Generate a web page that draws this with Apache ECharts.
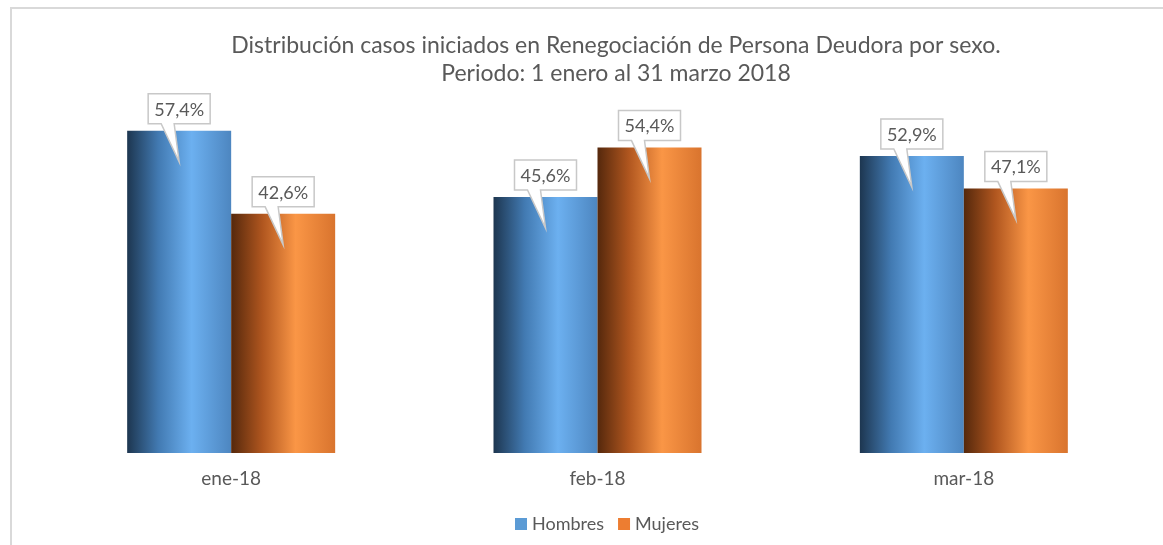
<!DOCTYPE html>
<html>
<head>
<meta charset="utf-8">
<script src="https://cdn.jsdelivr.net/npm/echarts@6/dist/echarts.min.js"></script>
<style>
  html, body { margin: 0; padding: 0; background: #fff; }
  #chart { width: 1163px; height: 545px; }
</style>
</head>
<body>
<div id="chart"></div>
<script>
// datos
const categories = ['ene-18', 'feb-18', 'mar-18'];
const hombres = [57.4, 45.6, 52.9];
const mujeres = [42.6, 54.4, 47.1];
const seriesNames = ['Hombres', 'Mujeres'];

const BAR_W = 104;
const FONT = 'Lato, "Open Sans", sans-serif';
const TXT = '#595959';

const chart = echarts.init(document.getElementById('chart'));

function grad(dark, mid, light, edge) {
    return new echarts.graphic.LinearGradient(0, 0, 1, 0, [
        { offset: 0, color: dark },
        { offset: 0.3, color: mid },
        { offset: 0.62, color: light },
        { offset: 1, color: edge }
    ]);
}

// datos para los globos de etiqueta: [categoria, valor, serie]
const calloutData = [];
categories.forEach((c, i) => {
    calloutData.push([i, hombres[i], 0]);
    calloutData.push([i, mujeres[i], 1]);
});

function renderCallout(params, api) {
    const p = api.coord([api.value(0), api.value(1)]);
    const s = api.value(2);
    const cx = p[0] + (s === 0 ? -BAR_W / 2 : BAR_W / 2);
    const top = p[1];
    const x0 = cx - 31, x1 = cx + 31;
    const y0 = top - 37, y1 = top - 7;
    const pts = [
        [x0, y0], [x1, y0], [x1, y1], [cx - 5, y1],
        [cx, top + 31], [cx - 18, y1], [x0, y1]
    ];
    return {
        type: 'group',
        children: [
            {
                type: 'polygon',
                shape: { points: pts },
                style: { fill: '#fff', stroke: '#c8c8c8', lineWidth: 1.5 }
            },
            {
                type: 'text',
                style: {
                    text: api.value(1).toFixed(1).replace('.', ',') + '%',
                    x: cx, y: (y0 + y1) / 2 + 1,
                    align: 'center', verticalAlign: 'middle',
                    fill: TXT, font: '18px ' + FONT
                }
            }
        ]
    };
}

const option = {
    backgroundColor: '#fff',
    animation: false,
    title: {
        text: 'Distribución casos iniciados en Renegociación de Persona Deudora por sexo.\nPeriodo: 1 enero al 31 marzo 2018',
        left: 611,
        top: 27,
        textAlign: 'center',
        textStyle: {
            color: TXT,
            fontFamily: FONT,
            fontSize: 23,
            fontWeight: 'normal',
            lineHeight: 28
        }
    },
    graphic: [{
        type: 'rect',
        shape: { x: 11, y: 8, width: 1200, height: 600 },
        style: { fill: 'none', stroke: '#d9d9d9', lineWidth: 2 },
        silent: true
    }],
    legend: {
        data: [
            { name: seriesNames[0], itemStyle: { color: '#5b9bd5' } },
            { name: seriesNames[1], itemStyle: { color: '#ed7d31' } }
        ],
        bottom: 7,
        left: 510,
        itemWidth: 12,
        itemHeight: 12,
        itemGap: 14,
        icon: 'rect',
        textStyle: { color: TXT, fontFamily: FONT, fontSize: 18 }
    },
    grid: {
        left: 48,
        right: 16,
        top: 60,
        bottom: 92
    },
    xAxis: {
        type: 'category',
        data: categories,
        axisLine: { show: false },
        axisTick: { show: false },
        axisLabel: { color: TXT, fontFamily: FONT, fontSize: 19, margin: 16 }
    },
    yAxis: {
        type: 'value',
        min: 0,
        max: 70,
        interval: 10,
        show: false,
        splitLine: { show: false }
    },
    series: [
        {
            name: 'Hombres',
            type: 'bar',
            data: hombres,
            barWidth: BAR_W,
            barGap: '0%',
            itemStyle: {
                color: grad('#1d3650', '#427ab2', '#6cb0f0', '#4d86c0')
            }
        },
        {
            name: 'Mujeres',
            type: 'bar',
            data: mujeres,
            barWidth: BAR_W,
            barGap: '0%',
            itemStyle: {
                color: grad('#55280c', '#b0561f', '#fa9646', '#d9742e')
            }
        },
        {
            type: 'custom',
            renderItem: renderCallout,
            data: calloutData,
            clip: false,
            z: 10,
            silent: true
        }
    ]
};
chart.setOption(option);
</script>
</body>
</html>
